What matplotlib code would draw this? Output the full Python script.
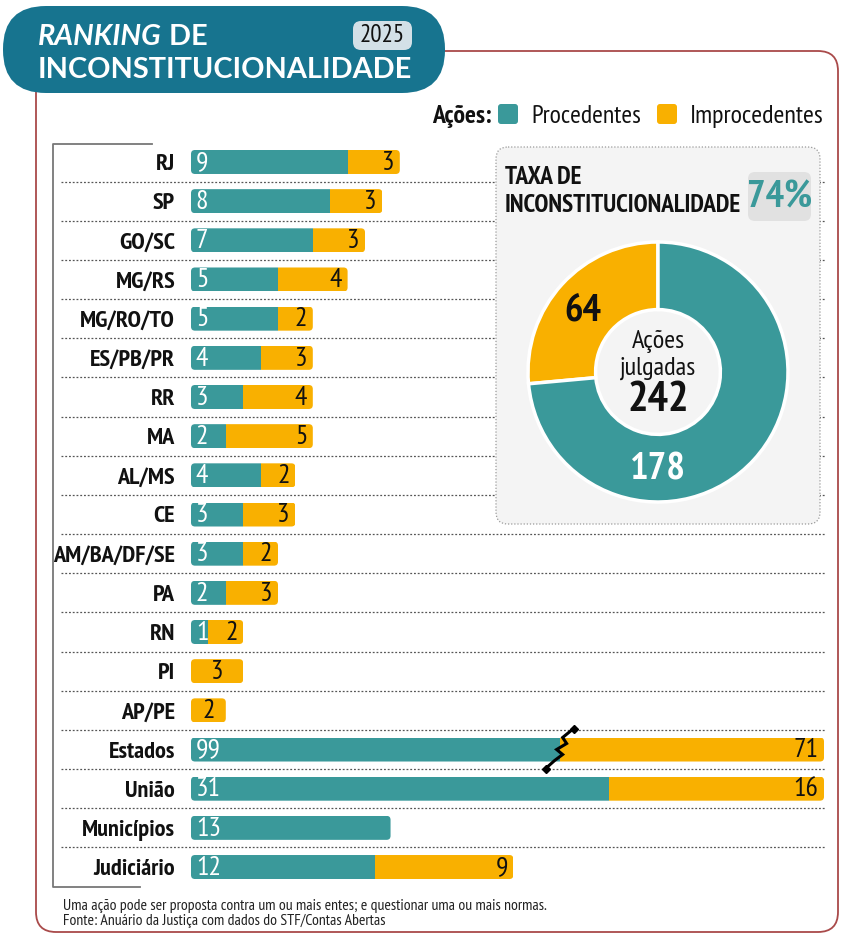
import matplotlib
matplotlib.use("Agg")
import matplotlib.pyplot as plt
from matplotlib.patches import FancyBboxPatch
import numpy as np

# data
labels = ["RJ", "SP", "GO/SC", "MG/RS", "MG/RO/TO", "ES/PB/PR", "RR", "MA",
          "AL/MS", "CE", "AM/BA/DF/SE", "PA", "RN", "PI", "AP/PE",
          "Estados", "União", "Municípios", "Judiciário"]
procedentes = [9, 8, 7, 5, 5, 4, 3, 2, 4, 3, 3, 2, 1, 0, 0, 99, 31, 13, 12]
improcedentes = [3, 3, 3, 4, 2, 3, 4, 5, 2, 3, 2, 3, 2, 3, 2, 71, 16, 0, 9]
n_states = 15  # first rows are states, the rest use their own scale
donut_labels = ["Improcedentes", "Procedentes"]
donut_values = [64, 178]
taxa = "74%"

TEAL = "#3a999a"
ORANGE = "#f9b000"
PILL = "#17748f"
DARK = "#111111"

NARROW = ["PT Sans Narrow", "Liberation Sans", "DejaVu Sans"]
TITLE = ["Lato", "DejaVu Sans"]
plt.rcParams["font.family"] = NARROW

W, H = 847, 939
fig = plt.figure(figsize=(W / 100, H / 100), dpi=100)
fig.patch.set_facecolor("white")

# background / decoration layer in pixel coordinates
bg = fig.add_axes([0, 0, 1, 1])
bg.set_xlim(0, W)
bg.set_ylim(H, 0)
bg.axis("off")

# outer frame
bg.add_patch(FancyBboxPatch((36, 51), 802, 881, boxstyle="round,pad=0,rounding_size=20",
                            fc="none", ec="#a94a4a", lw=1.3, zorder=1))
# title pill
bg.add_patch(FancyBboxPatch((3, 6), 442, 87, boxstyle="round,pad=0,rounding_size=43",
                            fc=PILL, ec="none", zorder=5))
t1 = bg.text(38, 45, "RANKING", family=TITLE, weight="bold", style="italic",
             fontsize=20.8, color="white", va="baseline", zorder=6)
bg.annotate(" DE", xy=(1, 0), xycoords=t1, family=TITLE, weight="bold",
            fontsize=20.8, color="white", va="bottom", zorder=6)
bg.text(38, 78, "INCONSTITUCIONALIDADE", family=TITLE, weight="bold",
        fontsize=20.8, color="white", va="baseline", zorder=6)
bg.add_patch(FancyBboxPatch((353, 21), 59, 29, boxstyle="round,pad=0,rounding_size=8",
                            fc="#d3e0e7", ec="none", zorder=6))
bg.text(382.5, 36, "2025", fontsize=18, color=DARK, ha="center", va="center", zorder=7)

# legend
bg.text(432, 123, "Ações:", fontsize=18.5, weight="bold", color=DARK, va="baseline")
bg.add_patch(FancyBboxPatch((498, 104), 20, 20, boxstyle="round,pad=0,rounding_size=3",
                            fc=TEAL, ec="none"))
bg.text(531, 123, "Procedentes", fontsize=18.5, color=DARK, va="baseline")
bg.add_patch(FancyBboxPatch((657, 104), 20, 20, boxstyle="round,pad=0,rounding_size=3",
                            fc=ORANGE, ec="none"))
bg.text(690, 123, "Improcedentes", fontsize=18.8, color=DARK, va="baseline")

# bracket on the left
bg.plot([152, 52.5, 52.5, 140], [144, 144, 887, 887], color="#777777", lw=1.3)

# bar axes geometry
row_top, row_step = 142.4, (886.6 - 142.4) / len(labels)
x0_px, x1_px = 191, 824
n = len(labels)
for i in range(n - 1):
    yy = row_top + (i + 1) * row_step
    bg.plot([61, 826], [yy, yy], color="#555555", lw=0.9, ls=(0, (1.5, 1.5)), zorder=1)

# donut panel
bg.add_patch(FancyBboxPatch((496, 147), 324, 377, boxstyle="round,pad=0,rounding_size=12",
                            fc="#f4f4f4", ec="#9a9a9a", lw=0.9, ls=(0, (1, 1.5)), zorder=3))
bg.text(505, 184, "TAXA DE", fontsize=18.2, weight="bold", color=DARK, va="baseline", zorder=4)
bg.text(505, 212, "INCONSTITUCIONALIDADE", fontsize=18.2, weight="bold", color=DARK,
        va="baseline", zorder=4)
bg.add_patch(FancyBboxPatch((748, 172), 63, 49, boxstyle="round,pad=0,rounding_size=7",
                            fc="#e1e1e1", ec="none", zorder=4))
bg.text(779.5, 198, taxa, fontsize=28, weight="bold", color=TEAL, ha="center",
        va="center", zorder=5)

# footnote
bg.text(63, 906, "Uma ação pode ser proposta contra um ou mais entes; e questionar uma ou mais normas.",
        fontsize=11.3, color="#222222", va="center")
bg.text(63, 921, "Fonte: Anuário da Justiça com dados do STF/Contas Abertas",
        fontsize=11.3, color="#222222", va="center")

ax = fig.add_axes([x0_px / W, 1 - 886.6 / H, (x1_px - x0_px) / W, (886.6 - row_top) / H])
ax.patch.set_alpha(0)
ax.set_ylim(n - 0.5, -0.5)
ax2 = ax.twiny()
ax2.patch.set_alpha(0)
px_unit = {ax: 17.4, ax2: 15.35}
for a in (ax, ax2):
    a.set_xlim(0, (x1_px - x0_px) / px_unit[a])
    for s in a.spines.values():
        s.set_visible(False)
    a.tick_params(length=0, labeltop=False, labelbottom=False)
    a.set_xticks([])
ax.set_yticks(range(n))
ax.set_yticklabels(labels, fontsize=17.5, weight="bold", color=DARK)
ax.tick_params(axis="y", pad=11.5)

bar_h = 24 / row_step
rad_px = 4
for i in range(n):
    a = ax if i < n_states else ax2
    pu = px_unit[a]
    xmax = a.get_xlim()[1]
    p, q = procedentes[i], improcedentes[i]
    total = p + q
    fit = min(1.0, xmax / total)
    pw, qw = p * fit, q * fit
    clip = FancyBboxPatch((0, i - bar_h / 2), pw + qw, bar_h,
                          boxstyle=f"round,pad=0,rounding_size={rad_px / pu}",
                          mutation_aspect=pu / row_step, transform=a.transData)
    bars = a.barh([i, i], [pw, qw], left=[0, pw], height=bar_h,
                  color=[TEAL, ORANGE], edgecolor="none")
    for b in bars:
        b.set_clip_path(clip)
    if p:
        a.annotate(str(p), (0, i), xytext=(3.5, -0.5), textcoords="offset points",
                   ha="left", va="center", fontsize=20, color="white")
    if p and q:
        a.annotate(str(q), (pw + qw, i), xytext=(-4, -0.5), textcoords="offset points",
                   ha="right", va="center", fontsize=20, color=DARK)
    elif q:
        a.annotate(str(q), (qw / 2, i), xytext=(0, -0.5), textcoords="offset points",
                   ha="center", va="center", fontsize=20, color=DARK)
    if fit < 0.5:
        # break mark where the bar was shortened a lot
        zx = np.array([14, 3, 7, -3, 3, -5, -14]) / pu
        zy = np.array([-21, -12, -6, 0, 5, 11, 19]) / row_step
        a.plot(pw + zx, i + zy, color="black", lw=2.2, clip_on=False, zorder=5,
               solid_joinstyle="miter")
        a.plot(pw + zx[[0, -1]], i + zy[[0, -1]], ls="none", marker="D", ms=4,
               color="black", clip_on=False, zorder=5)

# donut
cx, cy, r = 658, 372, 130
half = 134
axd = fig.add_axes([(cx - half) / W, 1 - (cy + half) / H, 2 * half / W, 2 * half / H])
axd.pie(donut_values, colors=[ORANGE, TEAL], startangle=90, counterclock=True, radius=1,
        wedgeprops=dict(width=0.52, edgecolor="white", linewidth=2.5))
axd.set_xlim(-half / r, half / r)
axd.set_ylim(-half / r, half / r)
axd.text(-0.577, 0.469, str(donut_values[0]), fontsize=28, weight="bold", color=DARK,
         ha="center", va="center")
axd.text(0, -0.754, str(donut_values[1]), fontsize=28, weight="bold", color="white",
         ha="center", va="center")
axd.text(0, 0.238, "Ações", fontsize=19, color=DARK, ha="center", va="center")
axd.text(0, 0.03, "julgadas", fontsize=19, color=DARK, ha="center", va="center")
axd.text(0, -0.223, str(sum(donut_values)), fontsize=31, weight="bold", color=DARK,
         ha="center", va="center")

fig.savefig("out.png", dpi=100)
